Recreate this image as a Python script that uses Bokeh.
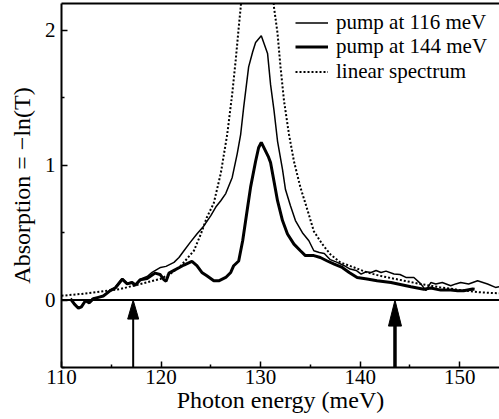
from bokeh.plotting import figure
from bokeh.models import Range1d, FixedTicker, LinearAxis, Span, Legend, LegendItem
from bokeh.embed import file_html
from bokeh.resources import INLINE

# ---------------- data ----------------
x_ticks = [110, 120, 130, 140, 150]
x_minor = [115, 125, 135, 145, 155]
y_ticks = [0, 1, 2]
y_minor = [-0.5, 0.5, 1.5]

# pump at 116 meV (thin line)
thin_x = [113.0, 113.7, 114.3, 114.9, 115.4, 116.1, 116.6, 117.1, 117.5, 117.9,
          118.6, 119.1, 119.95, 120.5, 121.3, 121.8, 122.3, 122.95, 123.6, 124.3,
          125.0, 125.5, 126.0, 126.5, 127.15, 127.65, 128.0, 128.3, 128.8, 129.2,
          129.5, 130.07, 130.7, 131.0, 131.35, 131.7, 132.2, 132.5, 133.0, 133.5,
          134.2, 134.85, 135.35, 135.9, 136.4, 137.0, 137.7, 138.4, 139.0, 139.6,
          140.1, 140.6, 141.1, 141.6, 142.1, 142.6, 143.4, 144.0, 144.6, 145.4,
          146.1, 146.6, 147.1, 147.6, 148.25, 149.1, 149.6, 150.1, 150.9, 151.8,
          152.8, 153.6, 154.0]
thin_y = [0.01, 0.02, 0.035, 0.075, 0.095, 0.16, 0.125, 0.135, 0.115, 0.155,
          0.175, 0.205, 0.242, 0.25, 0.28, 0.316, 0.366, 0.43, 0.49, 0.55,
          0.626, 0.69, 0.737, 0.79, 0.91, 1.085, 1.23, 1.43, 1.73, 1.84,
          1.91, 1.96, 1.83, 1.60, 1.405, 1.18, 0.97, 0.82, 0.70, 0.59,
          0.50, 0.44, 0.366, 0.353, 0.346, 0.30, 0.28, 0.255, 0.23, 0.22,
          0.193, 0.21, 0.205, 0.22, 0.205, 0.215, 0.193, 0.19, 0.168, 0.168,
          0.12, 0.07, 0.13, 0.12, 0.13, 0.106, 0.12, 0.13, 0.119, 0.143,
          0.119, 0.094, 0.10]

# pump at 144 meV (thick line)
thick_x = [110.9, 111.3, 111.7, 112.0, 112.4, 112.8, 113.2, 113.7, 114.2, 114.9,
           115.4, 116.1, 116.6, 117.1, 117.4, 117.9, 118.6, 119.0, 119.4, 119.9,
           120.3, 120.5, 120.8, 121.3, 121.8, 122.3, 123.1, 123.6, 124.1, 124.6,
           125.3, 125.8, 126.5, 127.0, 127.3, 127.8, 128.2, 128.5, 128.7, 129.0,
           129.5, 129.8, 130.07, 130.8, 131.0, 131.35, 131.7, 132.2, 132.7, 133.35,
           134.0, 134.5, 135.35, 136.0, 136.7, 137.4, 138.2, 138.9, 139.7, 140.7,
           141.7, 143.1, 145.1, 146.4, 147.1, 148.1, 149.1, 149.8, 150.4, 151.3, 151.5]
thick_y = [0.01, -0.03, -0.06, -0.05, -0.005, -0.02, 0.01, 0.02, 0.03, 0.07,
           0.09, 0.155, 0.12, 0.13, 0.11, 0.15, 0.16, 0.18, 0.20, 0.19,
           0.15, 0.14, 0.20, 0.22, 0.24, 0.26, 0.287, 0.255, 0.205, 0.18,
           0.143, 0.143, 0.168, 0.205, 0.255, 0.29, 0.44, 0.59, 0.69, 0.84,
           1.03, 1.13, 1.17, 1.06, 1.02, 0.88, 0.737, 0.59, 0.49, 0.415,
           0.366, 0.33, 0.33, 0.316, 0.29, 0.267, 0.242, 0.205, 0.168, 0.156,
           0.143, 0.13, 0.099, 0.08, 0.089, 0.074, 0.075, 0.069, 0.069, 0.082, 0.08]

# linear spectrum (dotted line)
lin_x = [110.0, 111.9, 113.9, 115.9, 117.9, 119.9, 120.9, 122.0, 123.3, 124.0,
         124.6, 125.3, 126.0, 126.65, 127.15, 127.5, 127.8, 128.0, 128.2,
         131.2, 131.35, 131.7, 132.0, 132.35, 132.85, 133.35, 134.0, 134.7, 135.35,
         136.2, 137.0, 138.0, 139.4, 140.7, 142.0, 144.0, 146.0, 148.0, 150.0,
         152.0, 154.0]
lin_y = [0.032, 0.045, 0.062, 0.082, 0.119, 0.156, 0.193, 0.255, 0.366, 0.49,
         0.613, 0.72, 0.94, 1.23, 1.53, 1.78, 2.02, 2.17, 2.35,
         2.35, 2.17, 1.98, 1.73, 1.48, 1.23, 1.03, 0.836, 0.67, 0.51,
         0.415, 0.34, 0.28, 0.242, 0.205, 0.18, 0.15, 0.12, 0.095, 0.075,
         0.058, 0.05]

# pump photon energies (arrows)
arrow_x = [117.2, 143.5]
arrow_shaft_px = [2.0, 3.5]
arrow_head_w_px = [11, 13]
arrow_head_l_px = [19, 26]

legend_labels = ["pump at 116 meV", "pump at 144 meV", "linear spectrum"]
x_title = "Photon energy (meV)"
y_title = "Absorption = \u2212ln(T)"

# ---------------- figure ----------------
FONT = "'Liberation Serif', 'Times New Roman', serif"
W, H = 499, 419
BL, BR, BT, BB = 61, 0, 3, 52
X0, X1 = 110, 154
Y0, Y1 = -0.5, 2.2

fw = W - BL - BR
fh = H - BT - BB
px_x = fw / (X1 - X0)
px_y = fh / (Y1 - Y0)

p = figure(width=W, height=H, output_backend="svg", toolbar_location=None,
           x_range=Range1d(X0, X1), y_range=Range1d(Y0, Y1),
           min_border_left=BL, min_border_right=BR, min_border_top=BT,
           min_border_bottom=BB)
p.grid.visible = False
p.outline_line_color = None
p.background_fill_color = "white"
p.border_fill_color = "white"

for ax in (p.xaxis[0], p.yaxis[0]):
    ax.axis_line_width = 2
    ax.axis_line_color = "black"
    ax.major_tick_in = 6
    ax.major_tick_out = 0
    ax.minor_tick_in = 3
    ax.minor_tick_out = 0
    ax.major_tick_line_width = 1.5
    ax.minor_tick_line_width = 1.5
    ax.major_tick_line_color = "black"
    ax.minor_tick_line_color = "black"
    ax.major_label_text_font = FONT
    ax.major_label_text_font_size = "21px"
    ax.major_label_text_color = "black"
    ax.axis_label_text_font = FONT
    ax.axis_label_text_font_size = "24px"
    ax.axis_label_text_font_style = "normal"
    ax.axis_label_text_color = "black"

p.xaxis.ticker = FixedTicker(ticks=x_ticks, minor_ticks=x_minor)
p.xaxis.major_label_standoff = 2
p.xaxis.axis_label = x_title
p.xaxis.axis_label_standoff = 0
p.yaxis.ticker = FixedTicker(ticks=y_ticks, minor_ticks=y_minor)
p.yaxis.major_label_standoff = 6
p.yaxis.axis_label = y_title
p.yaxis.axis_label_standoff = 7

top = LinearAxis(ticker=FixedTicker(ticks=[], minor_ticks=[]),
                 axis_line_width=2, axis_line_color="black",
                 major_tick_in=0, major_tick_out=0, minor_tick_in=0, minor_tick_out=0,
                 major_label_standoff=0)
p.add_layout(top, "above")

p.add_layout(Span(location=0, dimension="width", line_color="black", line_width=2))

r_lin = p.line(lin_x, lin_y, line_color="black", line_width=2, line_dash="2 2")
r_thin = p.line(thin_x, thin_y, line_color="black", line_width=1.5)
r_thick = p.line(thick_x, thick_y, line_color="black", line_width=3)

for ax_, sw, hw, hl in zip(arrow_x, arrow_shaft_px, arrow_head_w_px, arrow_head_l_px):
    base = 0 - hl / px_y
    p.segment(x0=[ax_], y0=[Y0], x1=[ax_], y1=[base + 0.01], line_color="black", line_width=sw)
    half = hw / 2 / px_x
    p.patches(xs=[[ax_ - half, ax_, ax_ + half]], ys=[[base, 0, base]],
              fill_color="black", line_color="black", line_width=1)

# one legend per row so the row spacing can be set exactly
legend_rows_y = [332.0, 307.75, 283.5]
for lab, rend, ly in zip(legend_labels, [r_thin, r_thick, r_lin], legend_rows_y):
    lg = Legend(items=[LegendItem(label=lab, renderers=[rend])], location=(234, ly))
    lg.label_text_font = FONT
    lg.label_text_font_size = "21px"
    lg.label_text_color = "black"
    lg.glyph_width = 33
    lg.glyph_height = 21
    lg.label_height = 21
    lg.spacing = 0
    lg.padding = 0
    lg.margin = 0
    lg.label_standoff = 8
    lg.border_line_color = None
    lg.background_fill_alpha = 0
    p.add_layout(lg)

open("out.html", "w").write(file_html(p, INLINE))
